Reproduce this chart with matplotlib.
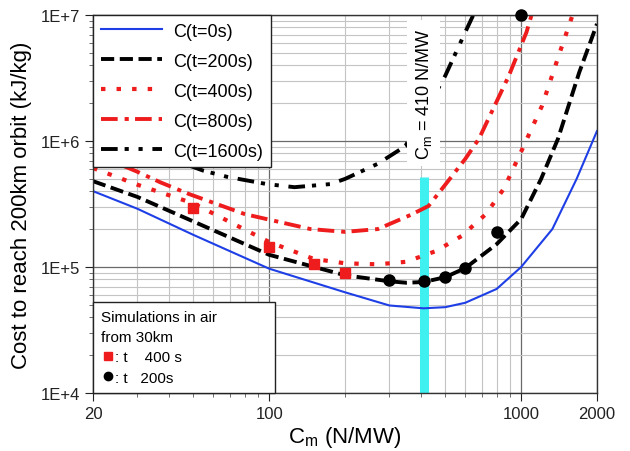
import numpy as np
import matplotlib
matplotlib.use("Agg")
import matplotlib.pyplot as plt
from matplotlib.ticker import FixedLocator, LogLocator, FuncFormatter, NullFormatter

plt.rcParams['font.family'] = ['Liberation Sans', 'DejaVu Sans']
plt.rcParams['mathtext.default'] = 'regular'
plt.rcParams['lines.scale_dashes'] = False

# cost curves
x_t0 = [20, 30, 50, 100, 200, 300, 410, 500, 600, 800, 1000, 1330, 1660, 2000]
y_t0 = [4.0e5, 2.9e5, 1.8e5, 9.7e4, 6.3e4, 4.95e4, 4.7e4, 4.8e4, 5.2e4, 6.7e4, 1.0e5, 2.0e5, 5.0e5, 1.2e6]

x_t200 = [20, 30, 50, 100, 200, 300, 350, 410, 500, 600, 800, 1000, 1200, 1400, 1700, 2000]
y_t200 = [4.8e5, 3.6e5, 2.3e5, 1.25e5, 8.6e4, 7.7e4, 7.5e4, 7.6e4, 8.3e4, 9.8e4, 1.52e5, 2.4e5, 5.0e5, 1.04e6, 3.5e6, 8.5e6]

x_t400 = [20, 30, 50, 100, 150, 200, 270, 350, 460, 580, 725, 855, 1010, 1210, 1440, 1600]
y_t400 = [6.1e5, 4.5e5, 3.2e5, 1.58e5, 1.16e5, 1.07e5, 1.05e5, 1.1e5, 1.34e5, 1.76e5, 2.63e5, 4.2e5, 8.6e5, 1.9e6, 5.4e6, 1.0e7]

x_t800 = [20, 30, 37, 48, 80, 146, 200, 270, 366, 429, 500, 600, 680, 894, 1050, 1100]
y_t800 = [8.0e5, 5.7e5, 4.7e5, 3.8e5, 2.63e5, 2.0e5, 1.9e5, 2.0e5, 2.6e5, 3.05e5, 4.5e5, 7.2e5, 1.04e6, 3.3e6, 7.3e6, 1.0e7]

x_t1600 = [20, 30, 55, 68, 98, 126, 175, 200, 270, 347, 420, 500, 600, 646]
y_t1600 = [1.3e6, 9.0e5, 5.8e5, 5.2e5, 4.55e5, 4.3e5, 4.55e5, 5.0e5, 6.6e5, 9.1e5, 1.76e6, 3.3e6, 7.3e6, 1.0e7]

# simulation points
sim400_x = [50, 100, 150, 200]
sim400_y = [2.94e5, 1.44e5, 1.06e5, 8.96e4]
sim200_x = [300, 410, 500, 600, 800, 1000]
sim200_y = [7.9e4, 7.7e4, 8.3e4, 9.8e4, 1.9e5, 1.0e7]

cm_opt = 410
cm_bar_top = 5.2e5

fig = plt.figure(figsize=(6.3, 4.52), dpi=100)
ax = fig.add_axes([93/630, 58/452, 504/630, 378/452])
ax.set_xscale('log'); ax.set_yscale('log')
ax.set_xlim(20, 2000); ax.set_ylim(1e4, 1e7)

red = '#ee1c1c'
ax.plot([cm_opt, cm_opt], [1e4, cm_bar_top], color='#3ef0f0', lw=6.5, solid_capstyle='butt', zorder=1.5)

l0, = ax.plot(x_t0, y_t0, color='#1f3fe6', lw=1.5, label='C(t=0s)')
l1, = ax.plot(x_t200, y_t200, color='black', lw=2.8, dashes=(9.5, 4), label='C(t=200s)')
l2, = ax.plot(x_t400, y_t400, color=red, lw=3.0, dashes=(3.2, 8), label='C(t=400s)')
l3, = ax.plot(x_t800, y_t800, color=red, lw=2.8, dashes=(12, 5, 3, 4.5), label='C(t=800s)')
l4, = ax.plot(x_t1600, y_t1600, color='black', lw=2.8, dashes=(12, 5, 3, 7, 3, 7), label='C(t=1600s)')

s1, = ax.plot(sim400_x, sim400_y, ls='none', marker='s', ms=7, color=red, zorder=4)
s2, = ax.plot(sim200_x, sim200_y, ls='none', marker='o', ms=8, color='black', zorder=4, clip_on=False)

ax.text(cm_opt, 2.4e6, 'C$_m$ = 410 N/MW', rotation=90, ha='center', va='center', fontsize=13,
        bbox=dict(facecolor='white', edgecolor='none', pad=5), zorder=3)

# axes / grid
ax.xaxis.set_major_locator(FixedLocator([20, 100, 1000, 2000]))
ax.xaxis.set_major_formatter(FuncFormatter(lambda v, p: f"{int(v)}"))
ax.xaxis.set_minor_locator(LogLocator(base=10, subs=np.arange(2, 10)))
ax.xaxis.set_minor_formatter(NullFormatter())
ax.yaxis.set_major_locator(LogLocator(base=10))
ax.yaxis.set_major_formatter(FuncFormatter(lambda v, p: f"1E+{int(round(np.log10(v)))}"))
ax.yaxis.set_minor_locator(LogLocator(base=10, subs=np.arange(2, 10)))
ax.yaxis.set_minor_formatter(NullFormatter())
ax.grid(which='minor', color='#c4c4c4', lw=0.8)
ax.grid(which='major', color='#6a6a6a', lw=0.9)
ax.set_axisbelow(True)
ax.tick_params(which='major', direction='out', length=6, width=0.8, labelsize=12, colors='#222222')
ax.tick_params(which='minor', direction='out', length=3, width=0.6, colors='#555555')
for sp in ax.spines.values():
    sp.set_color('#333333'); sp.set_linewidth(1.0)

ax.set_xlabel('C$_m$ (N/MW)', fontsize=16, labelpad=2)
ax.set_ylabel('Cost to reach 200km orbit (kJ/kg)', fontsize=16, labelpad=6)

leg1 = ax.legend(handles=[l0, l1, l2, l3, l4], loc='upper left', borderaxespad=0, fontsize=13,
                 handlelength=3.4, handletextpad=0.62, labelspacing=0.72, borderpad=0.42,
                 fancybox=False, framealpha=1, edgecolor='#222222')
leg1.get_frame().set_linewidth(1.0)
ax.add_artist(leg1)

leg2 = ax.legend(handles=[s1, s2], labels=[': t    400 s', ': t   200s'], loc='lower left',
                 bbox_to_anchor=(0, 0, 182/504, 0.3), mode='expand', borderaxespad=0,
                 title='Simulations in air\nfrom 30km', title_fontsize=11, fontsize=11, alignment='left',
                 handlelength=0.9, handletextpad=0.0, labelspacing=0.4, markerscale=0.75,
                 fancybox=False, framealpha=1, edgecolor='#222222', borderpad=0.55)
leg2.get_title().set_linespacing(1.55)
leg2.get_frame().set_linewidth(1.0)

fig.savefig('out.png', dpi=100)
